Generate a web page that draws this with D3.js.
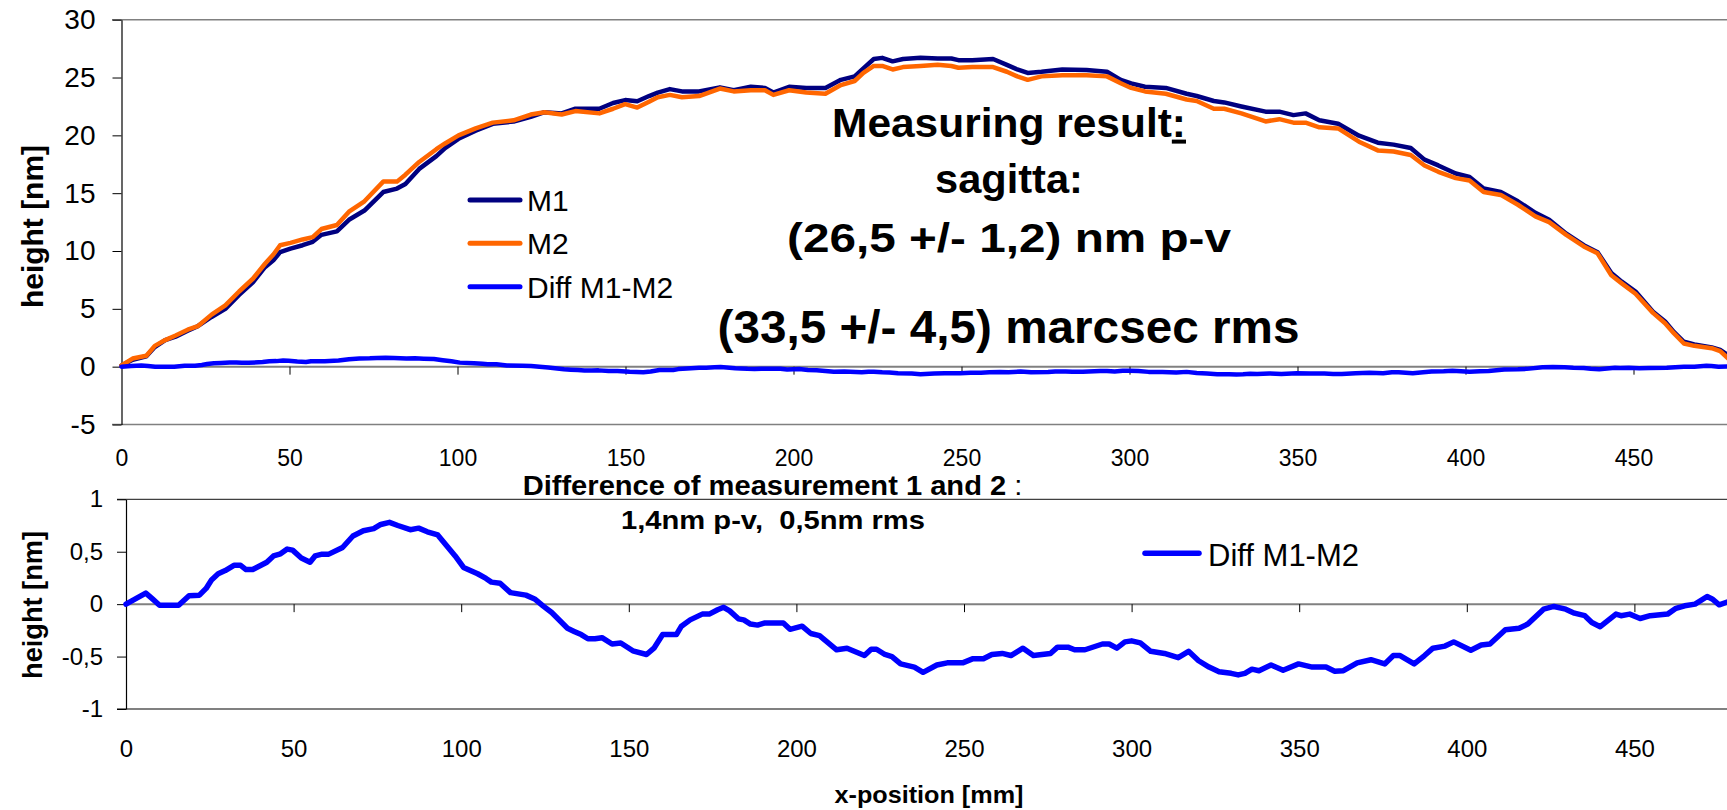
<!DOCTYPE html>
<html><head><meta charset="utf-8">
<script src="https://cdn.jsdelivr.net/npm/d3@7"></script>
<style>
html,body{margin:0;padding:0;background:#fff;overflow:hidden}
svg{display:block}
text{font-family:"Liberation Sans",Arial,Helvetica,sans-serif;fill:#000;white-space:pre}
</style></head>
<body><svg id="c" width="1727" height="810"></svg>
<script>
// ---------------- data ----------------
const profX = [0,3.3,7.4,9.9,13,16.1,19.7,22.7,26.8,30.9,
  35,39.1,42.7,45.2,47.2,50.3,53.9,56.9,59.5,64.1,
  67.7,72.3,77.9,82,84.5,88.6,93.7,96.3,100.3,105.4,
  110.5,116.7,121.8,125.9,131,135.1,142.2,146.3,149.9,153.5,
  157,159.6,163.2,166.8,171.9,178.1,182.2,187.3,191.5,194,
  198.7,203.8,209.5,214.1,218.2,220.8,223.9,226.4,229.5,232.6,
  237.8,242.9,247,249.1,253.2,259.4,263.5,266.6,269.7,273.8,
  280,287.2,293.3,297.4,300.5,304.6,310.8,317,320,325.1,
  328.2,333.3,340.5,344.6,348.8,352.4,356.5,362.1,368.3,373.9,
  378.6,383.7,387.8,391.9,397.1,401.2,405.4,410.5,415.6,420.8,
  424.9,430,435.2,439.3,443.4,446.5,450.6,455.8,459.4,462,
  465,468.1,473.3,475.8,478.2,481];
const m1 = [0.1,0.6,0.9,1.7,2.3,2.6,3.1,3.5,4.3,5.0,
  6.2,7.3,8.6,9.2,9.9,10.2,10.5,10.8,11.4,11.7,
  12.7,13.5,15.1,15.4,15.8,17.1,18.2,18.9,19.7,20.4,
  21.0,21.2,21.6,22.0,21.9,22.3,22.3,22.8,23.05,22.95,
  23.4,23.7,24.0,23.8,23.8,24.15,23.9,24.2,24.1,23.7,
  24.2,24.1,24.1,24.8,25.1,25.8,26.6,26.7,26.4,26.6,
  26.7,26.65,26.65,26.5,26.5,26.6,26.1,25.7,25.4,25.5,
  25.7,25.65,25.5,24.8,24.5,24.2,24.1,23.6,23.4,22.97,
  22.85,22.5,22.05,22.05,21.75,21.9,21.3,21.0,19.97,19.37,
  19.2,18.9,17.9,17.4,16.7,16.4,15.4,15.1,14.3,13.3,
  12.7,11.5,10.5,9.9,8.1,7.35,6.5,4.75,3.9,3.0,
  2.15,1.93,1.67,1.44,1.0,0.5];
const m2 = [0.1,0.7,0.95,1.8,2.3,2.7,3.2,3.5,4.5,5.3,
  6.5,7.6,8.9,9.7,10.5,10.7,11.0,11.2,11.9,12.25,
  13.4,14.3,16.0,16.0,16.6,17.7,18.8,19.3,20.0,20.6,
  21.1,21.3,21.8,22.0,21.8,22.1,21.9,22.3,22.7,22.4,
  22.9,23.3,23.5,23.3,23.4,24.05,23.8,23.9,23.9,23.5,
  23.9,23.7,23.6,24.35,24.7,25.4,26.0,26.0,25.7,25.9,
  26.0,26.1,26.0,25.85,25.9,25.9,25.5,25.1,24.8,25.1,
  25.2,25.2,25.1,24.5,24.1,23.8,23.6,23.1,22.97,22.3,
  22.3,21.9,21.2,21.4,21.1,21.1,20.7,20.6,19.45,18.7,
  18.6,18.3,17.4,16.85,16.3,16.1,15.1,14.85,14.0,13.0,
  12.5,11.4,10.4,9.8,7.9,7.2,6.3,4.65,3.75,2.9,
  2.0,1.8,1.6,1.35,0.7,0.4];
const diffX = [0,2.8,5.9,7.9,10,15.7,18.8,21.9,23.9,25.5,
  27.5,29.6,32.2,34.2,35.8,37.8,42,44,46.1,48.1,
  49.7,52.3,54.9,56.4,58.5,60.5,64.6,67.7,70.8,73.9,
  76,78.6,81.1,84.8,87.3,89.9,93,95.6,98.2,100.7,
  104.9,107.4,109,111.6,114.7,119.3,121.9,124.4,127,131.7,
  133.7,135.8,137.8,139.9,142,145,147.6,151.2,155.3,157.5,
  160.1,164.2,165.7,168.3,171.9,174,176.5,178.3,180.1,182.7,
  184.3,186.3,188.4,190.4,196.1,198.1,201.7,204.3,206.9,212,
  215.1,220.3,222.3,223.9,226.4,228.5,231.1,235.2,237.8,241.9,
  245,249.6,252.7,255.8,258.3,261.4,264,267.6,270.7,275.8,
  277.9,281,283,286.1,291.3,293.3,295.6,298,300,302.6,
  305.7,309.8,313.9,317,320,323.1,326.1,329.7,331.8,333.8,
  335.9,338,341.6,345.2,349.8,353.9,358,360.6,363.2,367.3,
  371.4,375.5,378.1,380.1,384.3,387.4,389.9,393.5,396.1,401.2,
  404.3,406.9,411.5,415.6,418.2,422.9,426,429.5,432.1,435.2,
  437.3,439.8,444.5,446,448.6,451.7,454.7,459.9,462.4,465,
  468.1,471.7,473.2,475.3,477.9,481];
const diffV = [0,0.05,0.105,0.05,-0.01,-0.01,0.08,0.086,0.15,0.23,
  0.29,0.32,0.37,0.37,0.33,0.33,0.40,0.46,0.48,0.525,
  0.515,0.44,0.40,0.46,0.477,0.477,0.54,0.65,0.70,0.72,
  0.76,0.78,0.75,0.71,0.725,0.69,0.66,0.56,0.46,0.35,
  0.29,0.245,0.21,0.20,0.11,0.086,0.05,-0.016,-0.08,-0.23,
  -0.26,-0.29,-0.33,-0.33,-0.32,-0.38,-0.37,-0.445,-0.48,-0.42,
  -0.29,-0.29,-0.21,-0.15,-0.095,-0.095,-0.054,-0.03,-0.064,-0.14,
  -0.15,-0.19,-0.20,-0.18,-0.18,-0.24,-0.21,-0.28,-0.30,-0.435,
  -0.42,-0.49,-0.43,-0.43,-0.48,-0.50,-0.57,-0.60,-0.65,-0.58,
  -0.56,-0.56,-0.52,-0.52,-0.48,-0.47,-0.49,-0.42,-0.49,-0.47,
  -0.41,-0.41,-0.435,-0.435,-0.38,-0.38,-0.42,-0.36,-0.35,-0.37,
  -0.45,-0.47,-0.51,-0.45,-0.54,-0.60,-0.645,-0.66,-0.675,-0.66,
  -0.62,-0.635,-0.58,-0.63,-0.57,-0.60,-0.60,-0.64,-0.635,-0.56,
  -0.53,-0.57,-0.49,-0.49,-0.57,-0.49,-0.42,-0.40,-0.36,-0.44,
  -0.39,-0.38,-0.245,-0.23,-0.19,-0.048,-0.022,-0.048,-0.086,-0.11,
  -0.175,-0.215,-0.095,-0.11,-0.095,-0.137,-0.11,-0.095,-0.04,-0.016,
  0,0.073,0.05,-0.006,0.022,0.03];
const xTickVals = [0,50,100,150,200,250,300,350,400,450];
const yTickTop = [-5,0,5,10,15,20,25,30];
const yTickBottom = [-1,-0.5,0,0.5,1];
const seriesNames = ["M1","M2","Diff M1-M2"];
const seriesColors = ["#000080","#FF6600","#0000FF"];

// ---------------- helpers ----------------
const svg = d3.select("#c");
const comma = d => String(d).replace(".", ",");

function label(x, y, parts, o) {
  if (typeof parts === "string") parts = [{s: parts}];
  const g = svg.append("g").attr("transform", `translate(${x},${y})` + (o.rotate ? ` rotate(${o.rotate})` : ""));
  const t = g.append("text")
    .attr("text-anchor", o.anchor || "start")
    .style("font-size", o.size + "px")
    .style("font-weight", o.weight || "normal");
  parts.forEach(p => {
    const ts = t.append("tspan").text(p.s);
    if (p.weight) ts.style("font-weight", p.weight);
    if (p.underline) ts.style("text-decoration", "underline");
  });
  if (o.width) {
    const L = t.node().getComputedTextLength();
    if (L > 0) t.attr("transform", `scale(${o.width / L},1)`);
  }
  return t;
}

// ---------------- top chart ----------------
const xT = d3.scaleLinear().domain([0, 500]).range([121.5, 1801.5]);
const yT = d3.scaleLinear().domain([-5, 30]).range([424.5, 19.7]);

const topG = svg.append("g");
[30, -5].forEach(v => topG.append("line")
  .attr("x1", 112).attr("x2", 1727).attr("y1", yT(v)).attr("y2", yT(v))
  .attr("stroke", "#808080").attr("stroke-width", 1.5));
topG.append("line").attr("x1", xT(0)).attr("x2", 1727).attr("y1", yT(0)).attr("y2", yT(0))
  .attr("stroke", "#808080").attr("stroke-width", 2);

const yAxT = topG.append("g").attr("transform", `translate(${xT(0)},0)`)
  .call(d3.axisLeft(yT).tickValues(yTickTop).tickSize(9).tickSizeOuter(0).tickPadding(17).tickFormat(comma));
yAxT.select(".domain").attr("stroke", "#000").attr("stroke-width", 1.2);
yAxT.selectAll(".tick line").attr("stroke", "#000");
yAxT.selectAll("text").style("font-size", "28px").attr("fill", "#000");

const xTickG = topG.append("g").attr("transform", `translate(0,${yT(0)})`)
  .call(d3.axisBottom(xT).tickValues(xTickVals.slice(1)).tickSize(8).tickFormat(""));
xTickG.select(".domain").remove();
xTickG.selectAll(".tick line").attr("stroke", "#000");
const xLabT = topG.append("g").attr("transform", `translate(0,450)`)
  .call(d3.axisBottom(xT).tickValues(xTickVals).tickSize(0).tickPadding(0));
xLabT.select(".domain").remove();
xLabT.selectAll("text").style("font-size", "23px").attr("fill", "#000");

const lineT = d3.line().x(d => xT(d[0])).y(d => yT(d[1]));
const topSeries = [profX.map((x, i) => [x, m1[i]]), profX.map((x, i) => [x, m2[i]]), diffX.map((x, i) => [x, diffV[i]])];
topSeries.forEach((s, i) => topG.append("path").datum(s).attr("d", lineT)
  .attr("fill", "none").attr("stroke", seriesColors[i]).attr("stroke-width", 4.5)
  .attr("stroke-linejoin", "round").attr("stroke-linecap", "round"));

const legY = [200, 243.3, 286.7];
seriesNames.forEach((n, i) => {
  topG.append("line").attr("x1", 470).attr("x2", 520).attr("y1", legY[i]).attr("y2", legY[i])
    .attr("stroke", seriesColors[i]).attr("stroke-width", 5).attr("stroke-linecap", "round");
  label(527, legY[i] + 11, n, {size: 30});
});

label(42.5, 226.5, "height [nm]", {size: 30, weight: "bold", anchor: "middle", rotate: -90, width: 163});

label(1009, 136.7, [{s: "Measuring result"}, {s: ":", underline: true}], {size: 40, weight: "bold", anchor: "middle", width: 354});
label(1009, 193.3, "sagitta:", {size: 40, weight: "bold", anchor: "middle", width: 148});
label(1009, 252.3, "(26,5 +/- 1,2) nm p-v", {size: 41, weight: "bold", anchor: "middle", width: 444});
label(1008.5, 343, "(33,5 +/- 4,5) marcsec rms", {size: 46, weight: "bold", anchor: "middle", width: 582});

// ---------------- bottom chart ----------------
const xB = d3.scaleLinear().domain([0, 500]).range([126, 1802]);
const yB = d3.scaleLinear().domain([-1, 1]).range([709, 499.3]);
const botG = svg.append("g");
botG.append("line").attr("x1", 117).attr("x2", 1727).attr("y1", yB(1)).attr("y2", yB(1))
  .attr("stroke", "#404040").attr("stroke-width", 1.2);
botG.append("line").attr("x1", 117).attr("x2", 1727).attr("y1", yB(-1)).attr("y2", yB(-1))
  .attr("stroke", "#808080").attr("stroke-width", 2);
botG.append("line").attr("x1", xB(0)).attr("x2", 1727).attr("y1", yB(0)).attr("y2", yB(0))
  .attr("stroke", "#808080").attr("stroke-width", 2);

const yAxB = botG.append("g").attr("transform", `translate(${xB(0)},0)`)
  .call(d3.axisLeft(yB).tickValues(yTickBottom).tickSize(9).tickSizeOuter(0).tickPadding(14).tickFormat(comma));
yAxB.select(".domain").attr("stroke", "#000").attr("stroke-width", 1.2);
yAxB.selectAll(".tick line").attr("stroke", "#000");
yAxB.selectAll("text").style("font-size", "24px").attr("fill", "#000");

const xTickB = botG.append("g").attr("transform", `translate(0,${yB(0)})`)
  .call(d3.axisBottom(xB).tickValues(xTickVals.slice(1)).tickSize(8).tickFormat(""));
xTickB.select(".domain").remove();
xTickB.selectAll(".tick line").attr("stroke", "#000");
const xLabB = botG.append("g").attr("transform", `translate(0,740)`)
  .call(d3.axisBottom(xB).tickValues(xTickVals).tickSize(0).tickPadding(0));
xLabB.select(".domain").remove();
xLabB.selectAll("text").style("font-size", "24px").attr("fill", "#000");

const lineB = d3.line().x(d => xB(d[0])).y(d => yB(d[1]));
botG.append("path").datum(diffX.map((x, i) => [x, diffV[i]])).attr("d", lineB)
  .attr("fill", "none").attr("stroke", seriesColors[2]).attr("stroke-width", 5.5)
  .attr("stroke-linejoin", "round").attr("stroke-linecap", "round");

botG.append("line").attr("x1", 1145).attr("x2", 1199).attr("y1", 553.3).attr("y2", 553.3)
  .attr("stroke", seriesColors[2]).attr("stroke-width", 5.5).attr("stroke-linecap", "round");
label(1208, 566, seriesNames[2], {size: 31});

label(42, 605, "height [nm]", {size: 27, weight: "bold", anchor: "middle", rotate: -90, width: 148});
label(772.5, 495.3, [{s: "Difference of measurement 1 and 2", weight: "bold"}, {s: " :", weight: "normal"}], {size: 27, anchor: "middle", width: 500});
label(773, 529, "1,4nm p-v,  0,5nm rms", {size: 26, weight: "bold", anchor: "middle", width: 304});
label(929, 803, "x-position [mm]", {size: 23, weight: "bold", anchor: "middle", width: 189});
</script>
</body></html>
